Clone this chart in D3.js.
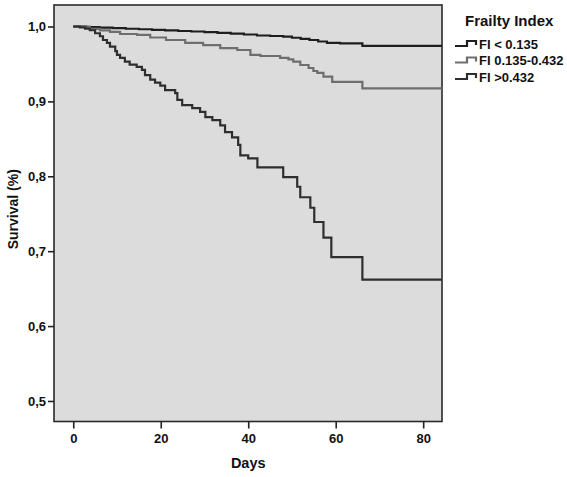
<!DOCTYPE html>
<html lang="en">
<head>
<meta charset="UTF-8">
<title>Frailty Index survival</title>
<style>
  body { margin: 0; background: #fff; }
  text { font-family: "Liberation Sans", Arial, sans-serif; font-weight: bold; fill: #111; }
  .axis path, .axis line { stroke: #222; stroke-width: 1.6; }
  .axis text { font-size: 13px; }
</style>
</head>
<body>
<svg></svg>
<script src="https://d3js.org/d3.v7.min.js"></script>
<script>

// step points: [day, survival] - survival holds from that day on
const fiLow = [
  [0, 1.0], [3, 0.9992], [6, 0.9985], [9, 0.9978], [12, 0.997], [15, 0.9963],
  [18, 0.9955], [21, 0.9948], [24, 0.994], [27, 0.9933], [30, 0.9925], [33, 0.9915],
  [36, 0.9905], [39, 0.9893], [42, 0.988], [45, 0.9873], [48, 0.9865], [50, 0.985],
  [52, 0.9835], [54, 0.982], [56, 0.980], [58, 0.978], [61, 0.9775], [66.1, 0.9742]
];
const fiMid = [
  [0, 1.0], [3.8, 0.9967], [6.1, 0.9947], [8.4, 0.9927], [10.7, 0.990], [14.6, 0.9887],
  [17.6, 0.9853], [21.2, 0.982], [25.6, 0.978], [29.7, 0.975], [33.6, 0.971],
  [37.5, 0.9686], [40.5, 0.962], [42.8, 0.9606], [47.3, 0.958], [49.2, 0.956],
  [50.3, 0.953], [51.9, 0.9486], [53.8, 0.9446], [54.9, 0.9406], [55.8, 0.938],
  [57.2, 0.933], [59.2, 0.926], [66.1, 0.9175]
];
const fiHigh = [
  [0, 1.0], [1.5, 0.9987], [2.7, 0.997], [3.8, 0.995], [5.0, 0.991], [6.1, 0.987],
  [6.8, 0.982], [7.7, 0.978], [8.4, 0.973], [9.6, 0.967], [10.0, 0.962], [10.7, 0.958],
  [11.8, 0.953], [12.9, 0.949], [14.5, 0.946], [15.7, 0.942], [16.4, 0.935],
  [17.6, 0.929], [18.7, 0.925], [19.9, 0.921], [21.0, 0.915], [23.3, 0.911],
  [23.8, 0.902], [24.9, 0.895], [27.2, 0.891], [29.0, 0.886], [30.2, 0.879],
  [31.8, 0.875], [33.6, 0.868], [34.7, 0.859], [36.3, 0.852], [37.7, 0.842],
  [38.2, 0.828], [40.0, 0.824], [42.1, 0.812], [48.0, 0.799], [51.2, 0.786],
  [51.9, 0.772], [54.2, 0.758], [55.1, 0.739], [57.2, 0.718], [59.0, 0.692],
  [66.1, 0.662]
];
const seriesNames = ["FI < 0.135", "FI 0.135-0.432", "FI >0.432"];
const seriesColors = ["#1e1e1e", "#6e6e6e", "#2e2e2e"];
const xTicks = [0, 20, 40, 60, 80];
const yTicks = [0.5, 0.6, 0.7, 0.8, 0.9, 1.0];
const xMax = 84.3;

const width = 567, height = 477;
const svg = d3.select("svg").attr("width", width).attr("height", height);

const plot = { left: 54, top: 5, right: 442, bottom: 421.5 };

const x = d3.scaleLinear().domain([-4.4, xMax]).range([plot.left, plot.right]);
const y = d3.scaleLinear().domain([0.4726, 1.0287]).range([plot.bottom, plot.top]);

svg.append("rect")
  .attr("x", plot.left).attr("y", plot.top)
  .attr("width", plot.right - plot.left).attr("height", plot.bottom - plot.top)
  .attr("fill", "#dcdcdc")
  .attr("stroke", "#2a2a2a").attr("stroke-width", 1.6);

const fmt = d => d3.format(".1f")(d).replace(".", ",");

const yAxis = svg.append("g").attr("class", "axis")
  .attr("transform", `translate(${plot.left},0)`)
  .call(d3.axisLeft(y).tickValues(yTicks).tickFormat(fmt).tickSize(6).tickPadding(2));
yAxis.select(".domain").remove();

const xAxis = svg.append("g").attr("class", "axis")
  .attr("transform", `translate(0,${plot.bottom})`)
  .call(d3.axisBottom(x).tickValues(xTicks).tickSize(7).tickPadding(5));
xAxis.select(".domain").remove();

svg.append("text")
  .attr("x", x(40)).attr("y", 468)
  .attr("text-anchor", "middle").attr("font-size", 14.5).text("Days");

svg.append("text")
  .attr("transform", `translate(18,${(plot.top + plot.bottom) / 2 - 4}) rotate(-90)`)
  .attr("text-anchor", "middle").attr("font-size", 14).text("Survival (%)");

const line = d3.line()
  .x(d => x(d[0])).y(d => y(d[1]))
  .curve(d3.curveStepAfter);

[fiLow, fiMid, fiHigh].forEach((s, i) => {
  const pts = s.concat([[xMax, s[s.length - 1][1]]]);
  svg.append("path")
    .datum(pts)
    .attr("d", line)
    .attr("fill", "none")
    .attr("stroke", seriesColors[i])
    .attr("stroke-width", 2.2);
});

// legend
svg.append("text")
  .attr("x", 465).attr("y", 26)
  .attr("font-size", 15).text("Frailty Index");

seriesNames.forEach((name, i) => {
  const cy = 44 + i * 16.5;
  svg.append("path")
    .attr("d", `M455,${cy + 2} H467 V${cy - 3} H476 V${cy + 1}`)
    .attr("fill", "none")
    .attr("stroke", seriesColors[i])
    .attr("stroke-width", 2.2);
  svg.append("text")
    .attr("x", 479).attr("y", cy + 4.5)
    .attr("font-size", 13).text(name);
});

</script>
</body>
</html>
